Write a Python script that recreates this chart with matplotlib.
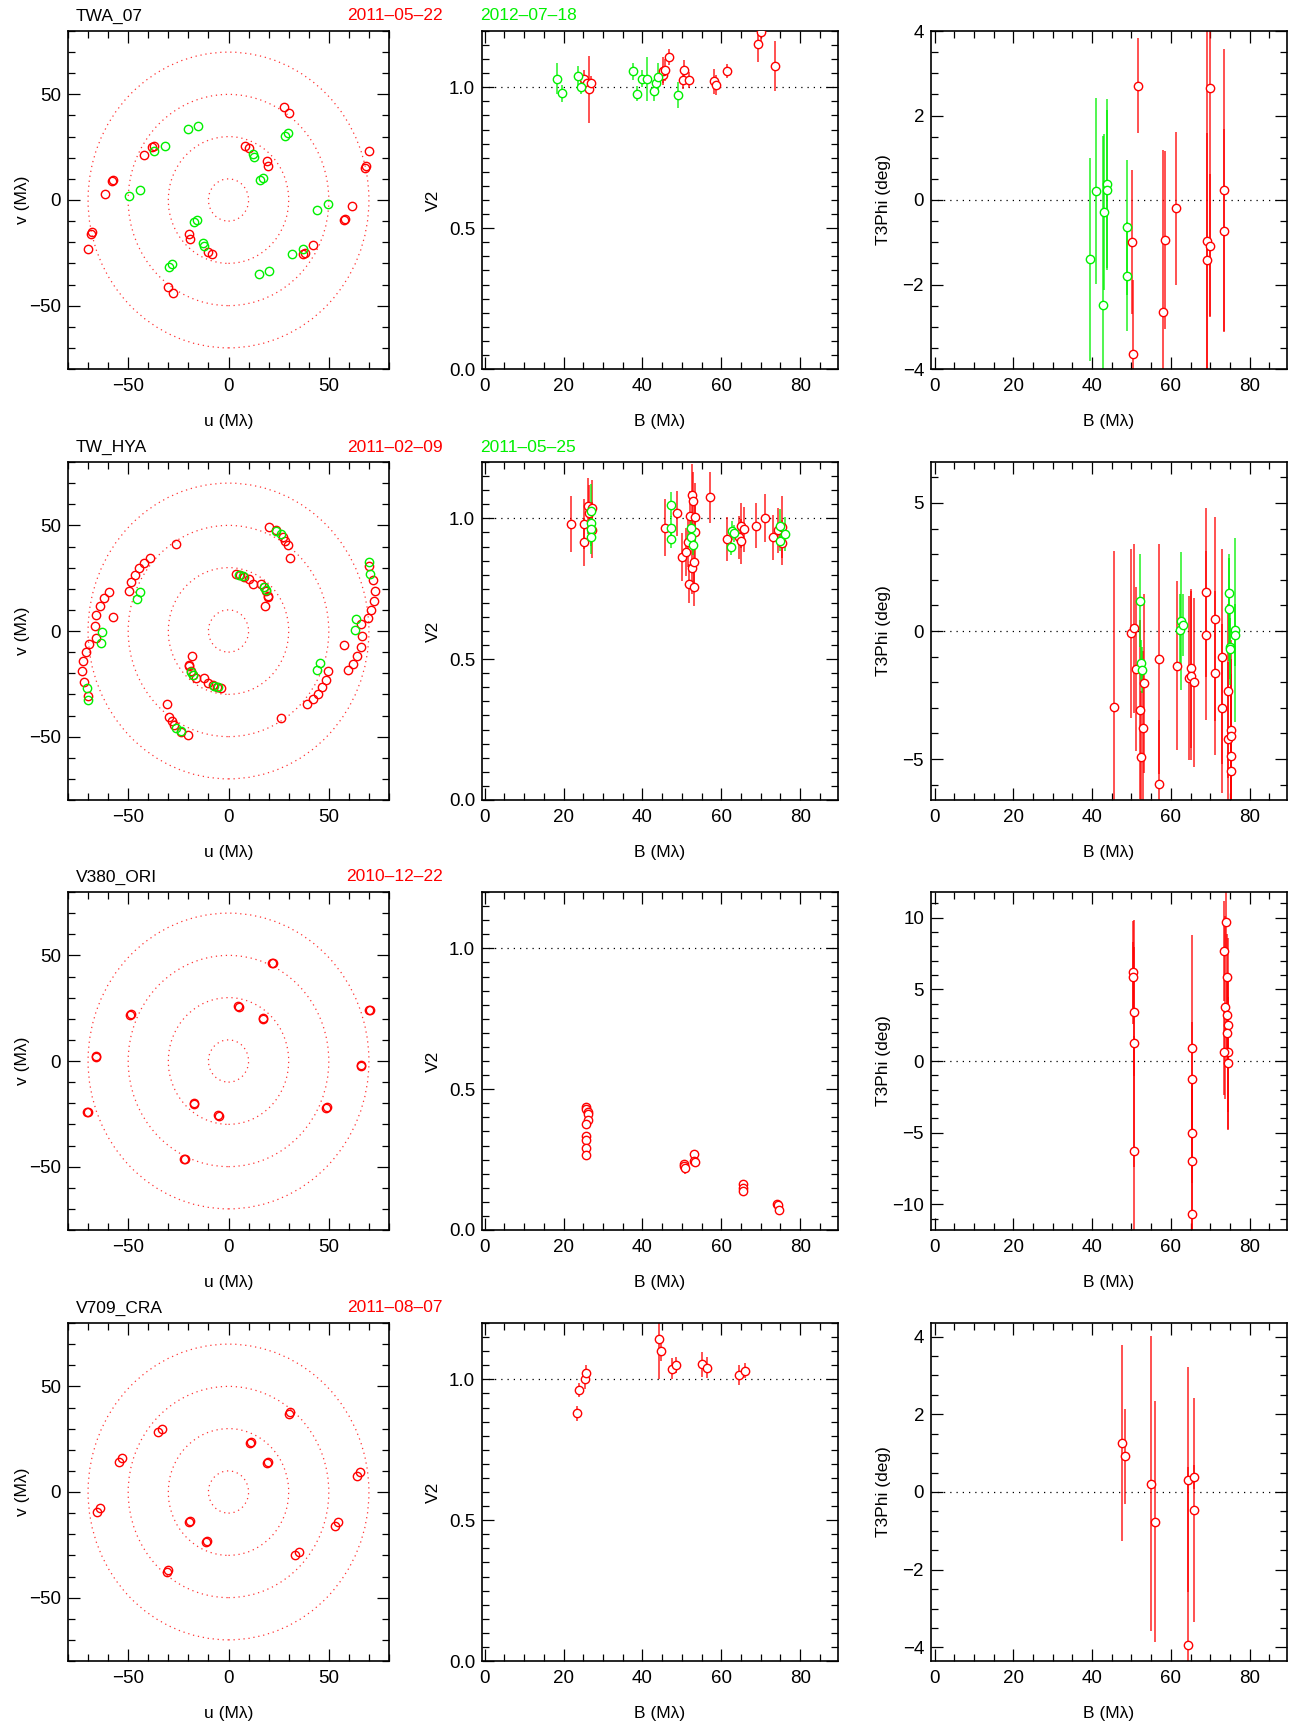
import numpy as np
import matplotlib.pyplot as plt
from matplotlib.patches import Circle
from matplotlib.ticker import MultipleLocator

plt.rcParams['font.family'] = ['Liberation Sans', 'DejaVu Sans']

RED = '#ff0000'
GREEN = '#00f000'

stars = ['TWA_07', 'TW_HYA', 'V380_ORI', 'V709_CRA']
red_dates = ['2011-05-22', '2011-02-09', '2010-12-22', '2011-08-07']
green_dates = ['2012-07-18', '2011-05-25', None, None]
ring_radii = [10, 30, 50, 70]

# ---- TWA_07 ----
twa_uv_red_u = [27.9, 30.1, 8.2, 10.0, 19.2, 19.7, 70.2, 68.4, 68.1, 61.7, 58.0, 57.5, 42.1, 38.0, 37.3]
twa_uv_red_v = [44.1, 41.0, 25.7, 24.8, 18.3, 16.0, 23.2, 16.3, 15.2, -2.9, -9.0, -9.5, -21.1, -25.2, -25.6]
twa_uv_grn_u = [-20.1, -15.4, -31.8, -37.3, -44.3, -49.8, 28.4, 29.6, 12.4, 12.5, 15.9, 17.1]
twa_uv_grn_v = [33.8, 34.9, 25.4, 23.3, 4.8, 2.1, 30.2, 31.9, 21.6, 20.3, 9.5, 10.5]

twa_v2_red_b = [25.2, 26.0, 26.4, 26.9, 45.1, 45.2, 45.6, 46.7, 50.4, 50.6, 51.8, 58.1, 58.7, 61.4, 69.3, 70.0, 73.6]
twa_v2_red = [1.030, 1.014, 0.993, 1.014, 1.044, 1.058, 1.062, 1.109, 1.025, 1.062, 1.026, 1.021, 1.008, 1.058, 1.154, 1.198, 1.076]
twa_v2_red_err = [0.03, 0.02, 0.12, 0.025, 0.03, 0.05, 0.04, 0.028, 0.03, 0.035, 0.03, 0.045, 0.035, 0.025, 0.065, 0.04, 0.09]
twa_v2_grn_b = [18.2, 19.7, 23.7, 24.3, 37.6, 38.7, 39.8, 41.1, 43.0, 43.5, 43.9, 49.1]
twa_v2_grn = [1.030, 0.979, 1.039, 1.002, 1.057, 0.978, 1.030, 1.030, 0.988, 1.014, 1.036, 0.973]
twa_v2_grn_err = [0.055, 0.03, 0.035, 0.025, 0.03, 0.025, 0.03, 0.077, 0.035, 0.03, 0.05, 0.047]

twa_t3_red_b = [50.1, 50.4, 51.6, 57.9, 58.5, 61.2, 69.1, 69.1, 69.9, 69.9, 73.5, 73.5]
twa_t3_red = [-1.0, -3.64, 2.71, -2.66, -0.95, -0.20, -0.98, -1.42, 2.65, -1.08, 0.24, -0.73]
twa_t3_red_err = [1.7, 1.75, 1.12, 3.85, 2.1, 1.8, 5.5, 3.0, 5.4, 1.7, 3.33, 2.4]
twa_t3_grn_b = [39.6, 40.9, 42.9, 43.1, 43.7, 43.7, 48.9, 48.9]
twa_t3_grn = [-1.40, 0.21, -2.49, -0.28, 0.38, 0.24, -0.65, -1.81]
twa_t3_grn_err = [2.4, 2.2, 4.0, 1.85, 2.0, 1.9, 1.6, 1.3]

# ---- TW_HYA ----
hya_uv_red_u = [3.7, 5.7, 7.9, 10.0, 12.0, 16.2, 17.9, 18.7, 19.6, 19.6, 18.4,
                20.1, 23.7, 27.1, 28.4, 29.9, 30.8,
                -26.4, -39.3, -42.1, -44.8, -46.8, -48.7, -49.5,
                -59.4, -61.9, -64.0, -65.9, -66.6, -66.2, -69.6, -71.2, -72.4, -72.9, -72.2, -69.9, -57.4]
hya_uv_red_v = [27.0, 26.7, 25.7, 24.6, 22.2, 22.2, 20.6, 19.0, 16.7, 15.9, 11.9,
                49.2, 47.6, 44.4, 42.4, 40.5, 34.4,
                41.3, 34.6, 32.4, 29.8, 26.7, 23.3, 19.0,
                18.6, 15.4, 11.6, 7.5, 2.4, -3.2, -6.0, -10.0, -14.3, -19.0, -24.3, -30.6, 6.8]
hya_uv_grn_u = [5.4, 7.4, 17.9, 18.7, 23.7, 26.4, -44.0, -45.5, -70.7, -69.9, -62.9, -63.7]
hya_uv_grn_v = [26.5, 26.0, 20.6, 19.4, 47.5, 45.7, 18.6, 15.1, -27.0, -32.5, -0.6, -5.7]

hya_v2_red_b = [21.9, 25.1, 25.1, 26.1, 26.5, 27.2, 27.3, 45.7, 48.7, 50.0, 51.0, 51.5, 51.8, 52.1, 52.5, 52.5, 52.9,
                53.1, 53.2, 53.3, 53.3, 57.1, 61.5, 64.5, 65.1, 65.1, 65.7, 68.9, 71.2, 73.0, 74.4, 75.3, 75.4]
hya_v2_red = [0.980, 0.980, 0.917, 1.044, 1.018, 1.036, 0.958, 0.967, 1.018, 0.863, 0.879, 0.917, 0.768, 1.008, 1.083,
              0.822, 1.063, 0.846, 0.757, 1.006, 0.952, 1.075, 0.926, 0.932, 0.974, 0.919, 0.961, 0.973, 1.000, 0.932,
              0.958, 0.970, 0.913]
hya_v2_red_err = [0.1, 0.09, 0.085, 0.1, 0.1, 0.1, 0.1, 0.1, 0.08, 0.085, 0.085, 0.09, 0.07, 0.09, 0.11, 0.09, 0.1,
                  0.1, 0.07, 0.12, 0.1, 0.09, 0.077, 0.075, 0.08, 0.08, 0.08, 0.08, 0.085, 0.08, 0.08, 0.11, 0.08]
hya_v2_grn_b = [26.9, 26.9, 26.9, 26.9, 47.2, 47.2, 47.2, 52.2, 52.2, 52.7, 62.5, 62.6, 63.2, 74.9, 75.0, 76.1]
hya_v2_grn = [1.027, 0.985, 0.961, 0.932, 1.048, 0.967, 0.926, 0.967, 0.932, 0.905, 0.899, 0.956, 0.947, 0.973, 0.919, 0.944]
hya_v2_grn_err = [0.095, 0.06, 0.06, 0.06, 0.045, 0.04, 0.03, 0.045, 0.04, 0.035, 0.03, 0.033, 0.03, 0.06, 0.035, 0.06]

hya_t3_red_b = [45.6, 49.9, 50.7, 51.2, 52.1, 52.5, 52.9, 53.3, 57.1, 57.1, 61.5, 64.5, 65.2, 65.2, 65.8, 69.0, 69.0,
                71.1, 71.1, 73.0, 73.0, 74.4, 74.4, 75.2, 75.2, 75.2, 75.3]
hya_t3_red = [-2.96, -0.09, 0.10, -1.49, -3.08, -4.94, -3.77, -2.05, -1.09, -5.97, -1.36, -1.82, -1.45, -1.75, -2.01,
              1.51, -0.16, 0.47, -1.64, -1.01, -3.01, -2.36, -4.22, -3.86, -4.09, -4.87, -5.45]
hya_t3_red_err = [6.1, 3.3, 3.3, 3.2, 3.5, 2.6, 3.0, 3.5, 4.5, 2.5, 3.3, 3.2, 3.1, 3.3, 3.3, 3.3, 3.3, 4.0, 3.2, 4.2,
                  3.3, 3.4, 3.0, 3.5, 3.0, 3.2, 3.0]
hya_t3_grn_b = [52.1, 52.3, 52.7, 62.4, 62.6, 63.1, 74.8, 74.8, 75.1, 75.1, 76.2, 76.2]
hya_t3_grn = [1.19, -1.26, -1.53, 0.03, 0.39, 0.23, 1.49, 0.84, -0.61, -0.69, 0.05, -0.16]
hya_t3_grn_err = [1.8, 0.9, 0.9, 1.4, 2.7, 1.2, 1.5, 2.0, 1.5, 1.2, 3.6, 1.2]

# ---- V380_ORI ----
ori_uv_red_u = [21.7, 22.4, 4.7, 5.0, 17.1, 17.4, 70.6, 69.9, 65.9, 66.2, 48.8, 49.1]
ori_uv_red_v = [46.2, 46.2, 25.9, 25.6, 20.3, 20.1, 24.1, 24.3, -1.9, -2.2, -22.2, -22.0]

ori_v2_red_b = [25.8, 25.8, 26.1, 26.3, 26.3, 25.8, 25.8, 25.8, 25.8, 25.8, 50.6, 50.6, 50.9, 53.2, 53.2, 53.3,
                65.4, 65.4, 65.5, 74.2, 74.4, 74.7]
ori_v2_red = [0.437, 0.428, 0.419, 0.413, 0.389, 0.377, 0.332, 0.318, 0.291, 0.265, 0.235, 0.228, 0.219, 0.269,
              0.246, 0.240, 0.163, 0.148, 0.139, 0.091, 0.087, 0.070]
ori_v2_red_err = [0.01, 0.01, 0.01, 0.01, 0.015, 0.01, 0.01, 0.01, 0.01, 0.01, 0.015, 0.01, 0.02, 0.01, 0.01, 0.01,
                  0.01, 0.01, 0.01, 0.01, 0.01, 0.01]

ori_t3_red_b = [50.4, 50.4, 50.6, 50.7, 50.7, 65.5, 65.5, 65.4, 65.4, 65.5,
                74.0, 73.6, 74.3, 73.8, 74.2, 74.6, 74.3, 74.6, 73.6, 74.4]
ori_t3_red = [6.19, 5.84, 3.44, 1.23, -6.26, 0.88, -1.28, -5.0, -6.95, -10.7,
              9.72, 7.67, 5.88, 3.74, 3.21, 2.51, 1.98, 0.65, 0.60, -0.16]
ori_t3_red_err = [3.6, 2.5, 4.5, 8.6, 8.0, 7.9, 4.0, 3.5, 5.0, 4.0,
                  2.1, 3.5, 3.0, 6.4, 2.5, 6.1, 2.0, 5.5, 3.0, 4.6]

# ---- V709_CRA ----
cra_uv_red_u = [30.4, 30.8, 10.9, 11.2, 19.2, 19.5, 64.2, 65.6, 53.2, 54.7, 33.3, 35.1]
cra_uv_red_v = [37.0, 37.8, 23.3, 23.8, 13.8, 14.3, 7.5, 9.4, -15.9, -14.3, -29.7, -28.6]

cra_v2_red_b = [23.5, 24.0, 25.3, 25.7, 44.1, 44.6, 47.6, 48.4, 55.0, 56.3, 64.4, 66.1]
cra_v2_red = [0.879, 0.962, 1.001, 1.021, 1.142, 1.101, 1.037, 1.051, 1.053, 1.041, 1.015, 1.031]
cra_v2_red_err = [0.028, 0.024, 0.035, 0.03, 0.14, 0.037, 0.037, 0.027, 0.045, 0.037, 0.036, 0.028]

cra_t3_red_b = [47.6, 48.3, 54.9, 56.1, 64.3, 64.3, 66.0, 66.0]
cra_t3_red = [1.26, 0.92, 0.21, -0.76, 0.32, -3.95, 0.39, -0.47]
cra_t3_red_err = [2.53, 1.22, 3.8, 3.1, 2.9, 4.6, 0.3, 2.88]

t3_limits = [4.0, 6.6, 11.8, 4.35]
t3_major = [2, 5, 5, 2]
t3_minor = [0.5, 1, 1, 0.5]

uv_sets = [
    [(twa_uv_red_u, twa_uv_red_v, RED), (twa_uv_grn_u, twa_uv_grn_v, GREEN)],
    [(hya_uv_red_u, hya_uv_red_v, RED), (hya_uv_grn_u, hya_uv_grn_v, GREEN)],
    [(ori_uv_red_u, ori_uv_red_v, RED)],
    [(cra_uv_red_u, cra_uv_red_v, RED)],
]
v2_sets = [
    [(twa_v2_red_b, twa_v2_red, twa_v2_red_err, RED), (twa_v2_grn_b, twa_v2_grn, twa_v2_grn_err, GREEN)],
    [(hya_v2_red_b, hya_v2_red, hya_v2_red_err, RED), (hya_v2_grn_b, hya_v2_grn, hya_v2_grn_err, GREEN)],
    [(ori_v2_red_b, ori_v2_red, ori_v2_red_err, RED)],
    [(cra_v2_red_b, cra_v2_red, cra_v2_red_err, RED)],
]
t3_sets = [
    [(twa_t3_red_b, twa_t3_red, twa_t3_red_err, RED), (twa_t3_grn_b, twa_t3_grn, twa_t3_grn_err, GREEN)],
    [(hya_t3_red_b, hya_t3_red, hya_t3_red_err, RED), (hya_t3_grn_b, hya_t3_grn, hya_t3_grn_err, GREEN)],
    [(ori_t3_red_b, ori_t3_red, ori_t3_red_err, RED)],
    [(cra_t3_red_b, cra_t3_red, cra_t3_red_err, RED)],
]

W, H = 1293, 1727
fig = plt.figure(figsize=(W / 100, H / 100), dpi=100)

row_tops = [31, 462, 892, 1323]
ax_h = 338


def add_ax(left, top, w):
    return fig.add_axes([left / W, 1 - (top + ax_h) / H, w / W, ax_h / H])


def style(ax, xmaj, xmin, ymaj, ymin):
    ax.xaxis.set_major_locator(MultipleLocator(xmaj))
    ax.xaxis.set_minor_locator(MultipleLocator(xmin))
    ax.yaxis.set_major_locator(MultipleLocator(ymaj))
    ax.yaxis.set_minor_locator(MultipleLocator(ymin))
    ax.tick_params(which='both', direction='in', top=True, right=True, width=0.9, labelsize=13.5)
    ax.tick_params(which='major', length=8.5)
    ax.tick_params(which='minor', length=5)
    ax.tick_params(axis='x', pad=6.4)
    ax.tick_params(axis='y', pad=5)
    for s in ax.spines.values():
        s.set_linewidth(1.2)


def points(ax, b, y, err, color):
    ax.errorbar(b, y, yerr=err, fmt='none', ecolor=color, elinewidth=1.2, alpha=0.8, zorder=2)
    ax.plot(b, y, 'o', mfc='white', mec=color, ms=6, mew=1.0, zorder=3)


for i in range(4):
    top = row_tops[i]

    # uv coverage
    ax = add_ax(68, top, 321)
    for r in ring_radii:
        ax.add_patch(Circle((0, 0), r, fill=False, ec=RED, lw=0.9, ls=(0, (1, 3)), alpha=0.8))
    for u, v, c in uv_sets[i]:
        u = np.array(u)
        v = np.array(v)
        ax.plot(np.concatenate([u, -u]), np.concatenate([v, -v]), 'o', mfc='none', mec=c, ms=6, mew=1.0)
    ax.set_xlim(-80, 80)
    ax.set_ylim(-80, 80)
    style(ax, 50, 10, 50, 10)
    ax.set_xlabel('u (M\u03bb)', fontsize=12.5)
    ax.set_ylabel('v (M\u03bb)', fontsize=12.5)
    ax.xaxis.set_label_coords(0.5, -0.132)
    ax.yaxis.set_label_coords(-0.119, 0.5)

    # titles
    ty = 1 - (top - 15) / H
    fig.text(76 / W, ty, stars[i], fontsize=12.5, va='center', ha='left')
    fig.text(443 / W, ty, red_dates[i].replace('-', '\u2013'), fontsize=12.5, color=RED, va='center', ha='right')
    if green_dates[i]:
        fig.text(480 / W, ty, green_dates[i].replace('-', '\u2013'), fontsize=12.5, color=GREEN, va='center', ha='left')

    # squared visibility
    ax = add_ax(482, top, 356)
    ax.axhline(1.0, color='black', lw=0.9, ls=(0, (1, 4)))
    for b, y, e, c in v2_sets[i]:
        points(ax, b, y, e, c)
    ax.set_xlim(-0.7, 89.6)
    ax.set_ylim(0, 1.2)
    style(ax, 20, 5, 0.5, 0.05)
    ax.yaxis.set_major_formatter(plt.FormatStrFormatter('%.1f'))
    ax.set_xlabel('B (M\u03bb)', fontsize=12.5)
    ax.set_ylabel('V2', fontsize=12.5)
    ax.xaxis.set_label_coords(0.5, -0.132)
    ax.yaxis.set_label_coords(-0.114, 0.5)

    # closure phase
    ax = add_ax(931, top, 356)
    ax.axhline(0.0, color='black', lw=0.9, ls=(0, (1, 4)))
    for b, y, e, c in t3_sets[i]:
        points(ax, b, y, e, c)
    ax.set_xlim(-0.9, 89.5)
    ax.set_ylim(-t3_limits[i], t3_limits[i])
    style(ax, 20, 5, t3_major[i], t3_minor[i])
    ax.set_xlabel('B (M\u03bb)', fontsize=12.5)
    ax.set_ylabel('T3Phi (deg)', fontsize=12.5)
    ax.xaxis.set_label_coords(0.5, -0.132)
    ax.yaxis.set_label_coords(-0.112, 0.5)

fig.savefig('out.png', dpi=100)
